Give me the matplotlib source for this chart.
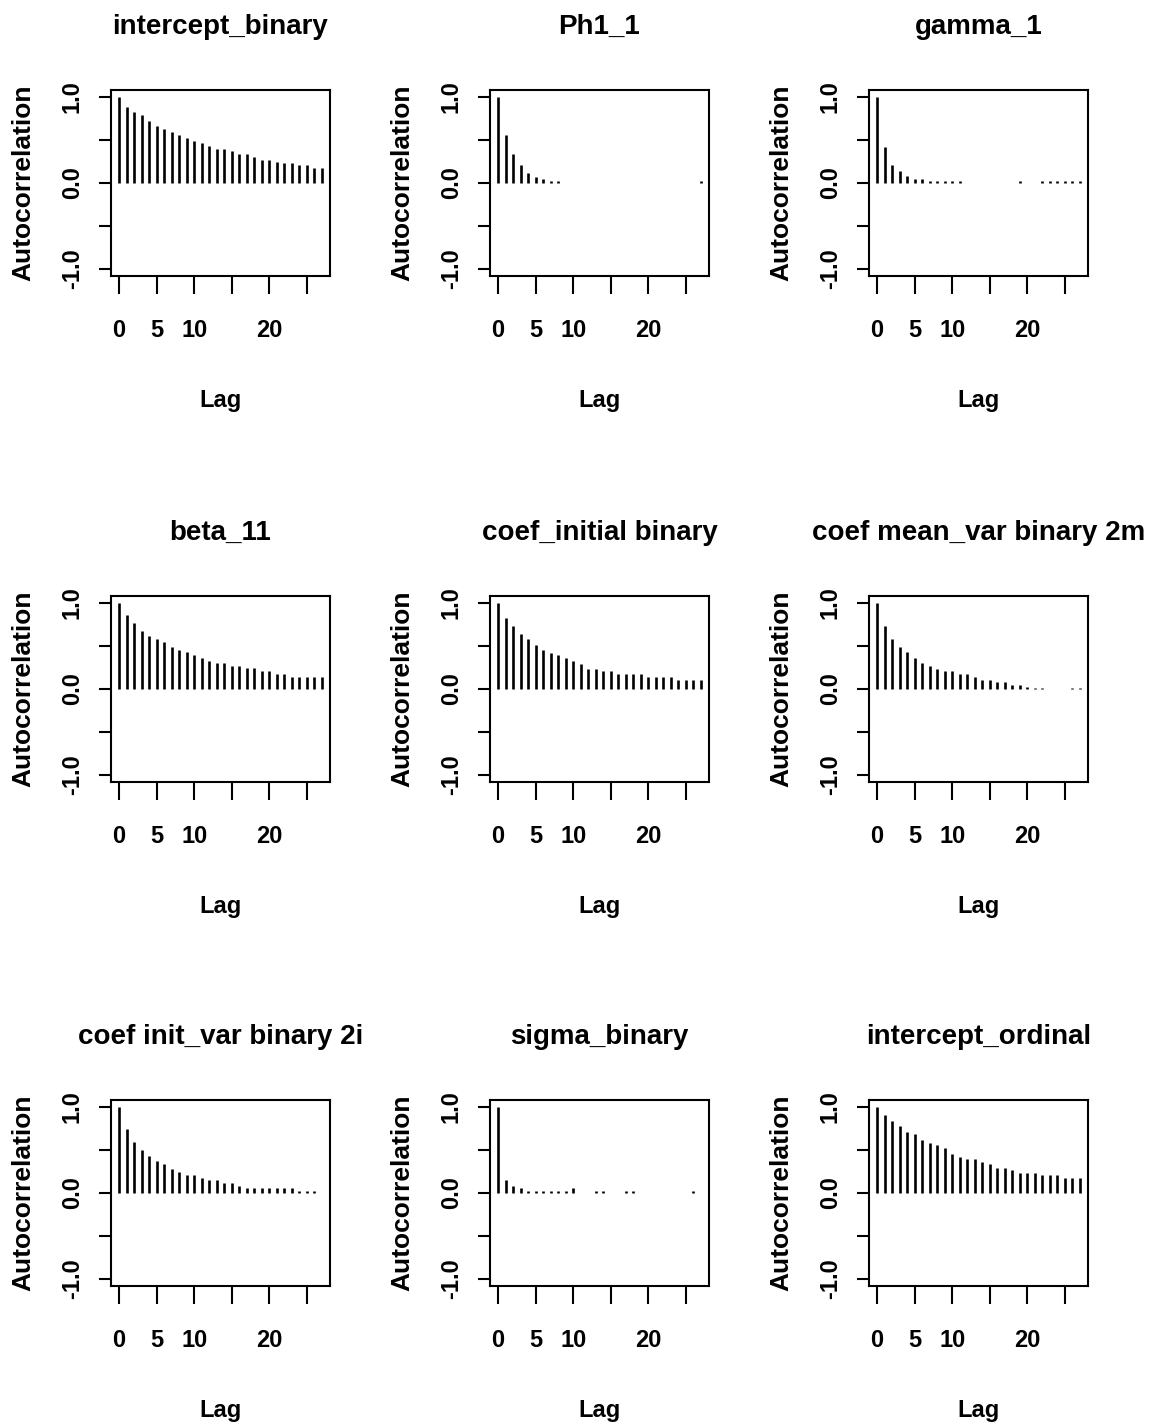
import numpy as np
import matplotlib
matplotlib.use("Agg")
import matplotlib.pyplot as plt

plt.rcParams['font.family'] = ['Liberation Sans', 'DejaVu Sans']
plt.rcParams['font.weight'] = 'bold'

nan = np.nan
lags = np.arange(28)

# autocorrelations per chain parameter, lags 0..27 (nan = nothing drawn)
intercept_binary = [1.0, 0.886, 0.819, 0.787, 0.72, 0.657, 0.626, 0.59, 0.559, 0.528,
                    0.492, 0.465, 0.433, 0.398, 0.394, 0.366, 0.335, 0.331, 0.303, 0.272,
                    0.264, 0.24, 0.236, 0.236, 0.209, 0.205, 0.169, 0.169]
phi1_1 = [1.0, 0.563, 0.337, 0.206, 0.111, 0.071, 0.048, 0.02, 0.02, nan,
          nan, nan, nan, nan, nan, nan, nan, nan, nan, nan,
          nan, nan, nan, nan, nan, nan, nan, 0.02]
gamma_1 = [1.0, 0.413, 0.206, 0.143, 0.079, 0.052, 0.052, 0.02, 0.02, 0.02,
           0.02, 0.02, nan, nan, nan, nan, nan, nan, nan, 0.02,
           nan, nan, 0.02, 0.02, 0.02, 0.02, 0.02, 0.02]
beta_11 = [1.0, 0.864, 0.765, 0.674, 0.61, 0.58, 0.55, 0.485, 0.455, 0.424,
           0.39, 0.36, 0.33, 0.30, 0.30, 0.27, 0.27, 0.24, 0.24, 0.21,
           0.21, 0.18, 0.175, 0.144, 0.144, 0.144, 0.144, 0.144]
coef_initial = [1.0, 0.826, 0.731, 0.640, 0.576, 0.515, 0.451, 0.420, 0.390, 0.356,
                0.326, 0.295, 0.235, 0.235, 0.205, 0.205, 0.17, 0.17, 0.17, 0.17,
                0.14, 0.14, 0.14, 0.14, 0.11, 0.11, 0.11, 0.11]
coef_mean_var = [1.0, 0.735, 0.58, 0.485, 0.424, 0.36, 0.30, 0.265, 0.235, 0.205,
                 0.205, 0.17, 0.17, 0.14, 0.11, 0.11, 0.08, 0.08, 0.045, 0.045,
                 0.02, 0.015, 0.015, nan, nan, nan, 0.015, 0.015]
coef_init_var = [1.0, 0.746, 0.588, 0.496, 0.43, 0.37, 0.338, 0.273, 0.242, 0.21,
                 0.21, 0.18, 0.15, 0.15, 0.115, 0.115, 0.085, 0.054, 0.054, 0.054,
                 0.054, 0.054, 0.054, 0.054, 0.02, 0.02, 0.02, nan]
sigma_binary = [1.0, 0.146, 0.085, 0.054, 0.02, 0.02, 0.02, 0.02, 0.02, 0.02,
                0.054, nan, nan, 0.02, 0.02, nan, nan, 0.02, 0.02, nan,
                nan, nan, nan, nan, nan, nan, 0.02, nan]
intercept_ordinal = [1.0, 0.904, 0.838, 0.777, 0.712, 0.681, 0.615, 0.585, 0.554, 0.519,
                     0.458, 0.423, 0.392, 0.392, 0.362, 0.331, 0.296, 0.296, 0.265, 0.235,
                     0.235, 0.235, 0.204, 0.204, 0.204, 0.173, 0.173, 0.173]

titles = ["intercept_binary", "Ph1_1", "gamma_1",
          "beta_11", "coef_initial binary", "coef mean_var binary 2m",
          "coef init_var binary 2i", "sigma_binary", "intercept_ordinal"]
series = [intercept_binary, phi1_1, gamma_1,
          beta_11, coef_initial, coef_mean_var,
          coef_init_var, sigma_binary, intercept_ordinal]

xticks = [0, 5, 10, 15, 20, 25]
xticklabels = ["0", "5", "10", "", "20", ""]
yticks = [-1.0, -0.5, 0.0, 0.5, 1.0]
yticklabels = ["-1.0", "", "0.0", "", "1.0"]

W, H = 1155, 1427
fig = plt.figure(figsize=(W / 100, H / 100), dpi=100)

col_left = [111, 490, 869]
row_top = [90, 596, 1100]
ax_w, ax_h = 219, 186

for i, (title, acf) in enumerate(zip(titles, series)):
    r, c = divmod(i, 3)
    ax = fig.add_axes([col_left[c] / W, 1 - (row_top[r] + ax_h) / H, ax_w / W, ax_h / H])
    acf = np.asarray(acf, dtype=float)
    ok = np.isfinite(acf)
    ax.vlines(lags[ok], 0, acf[ok], colors='black', linewidth=1.9)

    ax.set_xlim(-1.08, 28.08)
    ax.set_ylim(-1.08, 1.08)
    ax.set_xticks(xticks)
    ax.set_xticklabels(xticklabels)
    ax.set_yticks(yticks)
    ax.set_yticklabels(yticklabels, rotation=90, va='center')
    ax.tick_params(axis='x', length=13, width=1.5, pad=18, labelsize=17)
    ax.tick_params(axis='y', length=8.5, width=1.5, pad=11, labelsize=17)
    for s in ax.spines.values():
        s.set_linewidth(1.5)

    ax.set_title(title, fontsize=20, fontweight='bold', y=1.34, pad=0, va='center')
    ax.set_xlabel("Lag", fontsize=17, fontweight='bold', va='center')
    ax.xaxis.set_label_coords(0.5, -0.667)
    ax.set_ylabel("Autocorrelation", fontsize=19, fontweight='bold', va='center')
    ax.yaxis.set_label_coords(-0.40, 0.5)

fig.savefig("out.png", dpi=100)
